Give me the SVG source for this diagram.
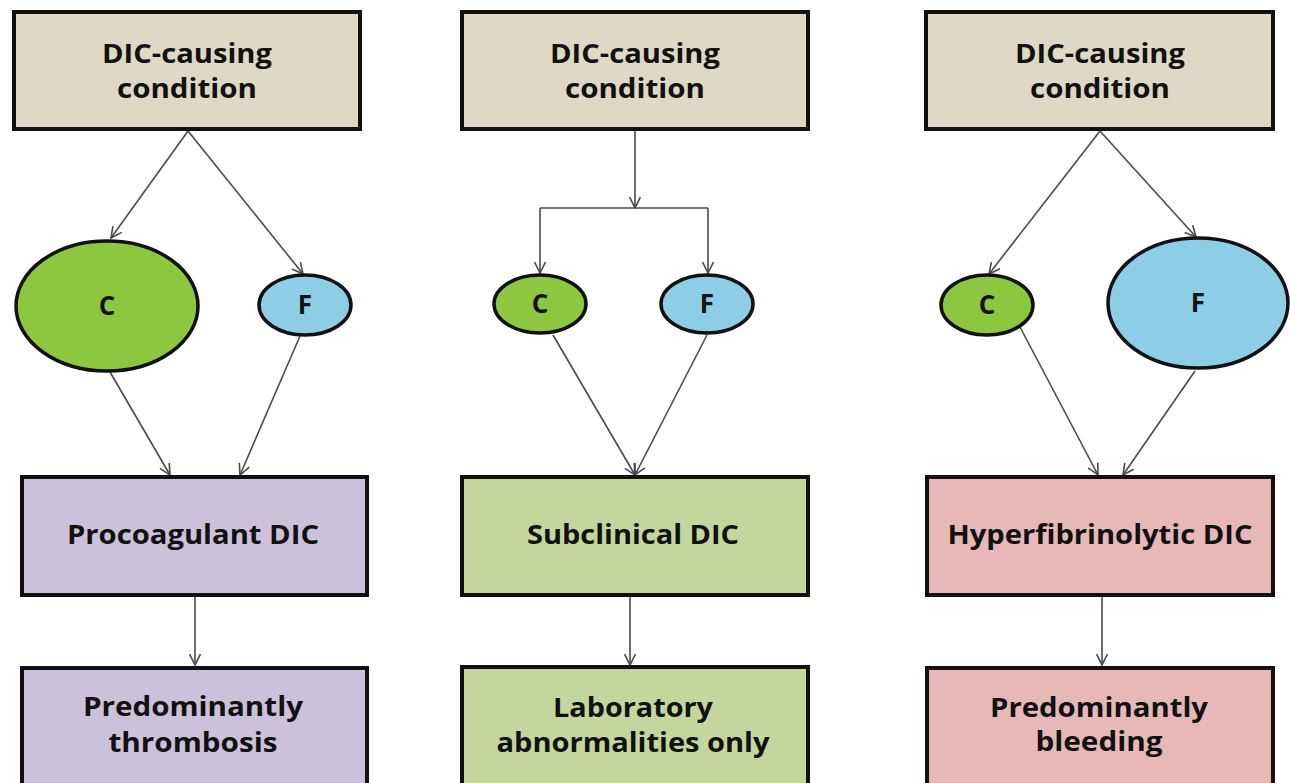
<svg xmlns="http://www.w3.org/2000/svg" width="1290" height="783" viewBox="0 0 1290 783">
<defs>
<style>
.box{stroke:#111;stroke-width:4}
.tan{fill:#DDD9C4}
.pur{fill:#CCC1DA}
.grn{fill:#C3D69B}
.pnk{fill:#E6B9B8}
.ell{stroke:#111;stroke-width:3.5}
.ec{fill:#8DC63F}
.ef{fill:#8ECDE6}
text{font-family:"Open Sans","Liberation Sans",sans-serif;font-weight:bold;fill:#111;text-anchor:middle}
.t{font-size:26px}
.e{font-size:26px}
.c{fill:none;stroke:#4a4a4a;stroke-width:1.6}
</style>
<marker id="ah" viewBox="0 0 12 12" refX="11" refY="6" markerWidth="13" markerHeight="13" markerUnits="userSpaceOnUse" orient="auto">
<path d="M1,1 L11,6 L1,11" fill="none" stroke="#4a4a4a" stroke-width="1.5"/>
</marker>
</defs>
<rect width="1290" height="783" fill="#fff"/>

<g id="connectors">
<line class="c" x1="188" y1="131" x2="111" y2="238" marker-end="url(#ah)"/>
<line class="c" x1="188" y1="131" x2="303" y2="274" marker-end="url(#ah)"/>
<line class="c" x1="110" y1="372" x2="170" y2="475" marker-end="url(#ah)"/>
<line class="c" x1="300" y1="336" x2="240" y2="475" marker-end="url(#ah)"/>
<line class="c" x1="195" y1="597" x2="195" y2="665" marker-end="url(#ah)"/>

<line class="c" x1="635" y1="131" x2="635" y2="208" marker-end="url(#ah)"/>
<line class="c" x1="540" y1="208" x2="708" y2="208"/>
<line class="c" x1="540" y1="208" x2="540" y2="273" marker-end="url(#ah)"/>
<line class="c" x1="708" y1="208" x2="708" y2="273" marker-end="url(#ah)"/>
<line class="c" x1="553" y1="335" x2="635" y2="475" marker-end="url(#ah)"/>
<line class="c" x1="707" y1="335" x2="635" y2="475" marker-end="url(#ah)"/>
<line class="c" x1="630" y1="597" x2="630" y2="665" marker-end="url(#ah)"/>

<line class="c" x1="1100" y1="131" x2="989" y2="274" marker-end="url(#ah)"/>
<line class="c" x1="1100" y1="131" x2="1196" y2="237" marker-end="url(#ah)"/>
<line class="c" x1="1020" y1="327" x2="1098" y2="475" marker-end="url(#ah)"/>
<line class="c" x1="1195" y1="371" x2="1123" y2="475" marker-end="url(#ah)"/>
<line class="c" x1="1102" y1="597" x2="1102" y2="665" marker-end="url(#ah)"/>
</g>

<g id="cause-left">
<rect class="box tan" x="14" y="12" width="346" height="117"/>
<text class="t" x="187" y="63" textLength="170" lengthAdjust="spacingAndGlyphs">DIC-causing</text>
<text class="t" x="187" y="98" textLength="140" lengthAdjust="spacingAndGlyphs">condition</text>
</g>
<g id="cause-mid">
<rect class="box tan" x="462" y="12" width="346" height="117"/>
<text class="t" x="635" y="63" textLength="170" lengthAdjust="spacingAndGlyphs">DIC-causing</text>
<text class="t" x="635" y="98" textLength="140" lengthAdjust="spacingAndGlyphs">condition</text>
</g>
<g id="cause-right">
<rect class="box tan" x="926" y="12" width="347" height="117"/>
<text class="t" x="1100" y="63" textLength="170" lengthAdjust="spacingAndGlyphs">DIC-causing</text>
<text class="t" x="1100" y="98" textLength="140" lengthAdjust="spacingAndGlyphs">condition</text>
</g>

<g id="c-left">
<ellipse class="ell ec" cx="107" cy="306" rx="91" ry="65"/>
<text class="e" x="107" y="315">C</text>
</g>
<g id="f-left">
<ellipse class="ell ef" cx="305" cy="305" rx="46" ry="30"/>
<text class="e" x="305" y="314">F</text>
</g>
<g id="c-mid">
<ellipse class="ell ec" cx="540" cy="304" rx="46" ry="29"/>
<text class="e" x="540" y="313">C</text>
</g>
<g id="f-mid">
<ellipse class="ell ef" cx="707" cy="304" rx="46" ry="29"/>
<text class="e" x="707" y="313">F</text>
</g>
<g id="c-right">
<ellipse class="ell ec" cx="987" cy="305" rx="46" ry="30"/>
<text class="e" x="987" y="314">C</text>
</g>
<g id="f-right">
<ellipse class="ell ef" cx="1198" cy="303" rx="90" ry="65"/>
<text class="e" x="1198" y="312">F</text>
</g>

<g id="procoagulant">
<rect class="box pur" x="22" y="477" width="345" height="118"/>
<text class="t" x="193" y="544" textLength="252" lengthAdjust="spacingAndGlyphs">Procoagulant DIC</text>
</g>
<g id="subclinical">
<rect class="box grn" x="462" y="477" width="346" height="118"/>
<text class="t" x="633" y="544" textLength="212" lengthAdjust="spacingAndGlyphs">Subclinical DIC</text>
</g>
<g id="hyperfibrinolytic">
<rect class="box pnk" x="927" y="477" width="346" height="118"/>
<text class="t" x="1100" y="544" textLength="305" lengthAdjust="spacingAndGlyphs">Hyperfibrinolytic DIC</text>
</g>

<g id="thrombosis">
<rect class="box pur" x="22" y="668" width="345" height="130"/>
<text class="t" x="193" y="716" textLength="220" lengthAdjust="spacingAndGlyphs">Predominantly</text>
<text class="t" x="193" y="752" textLength="169" lengthAdjust="spacingAndGlyphs">thrombosis</text>
</g>
<g id="laboratory">
<rect class="box grn" x="462" y="667" width="346" height="130"/>
<text class="t" x="633" y="717" textLength="160" lengthAdjust="spacingAndGlyphs">Laboratory</text>
<text class="t" x="633" y="752" textLength="273" lengthAdjust="spacingAndGlyphs">abnormalities only</text>
</g>
<g id="bleeding">
<rect class="box pnk" x="927" y="668" width="346" height="130"/>
<text class="t" x="1099" y="717" textLength="218" lengthAdjust="spacingAndGlyphs">Predominantly</text>
<text class="t" x="1099" y="751" textLength="127" lengthAdjust="spacingAndGlyphs">bleeding</text>
</g>
</svg>
